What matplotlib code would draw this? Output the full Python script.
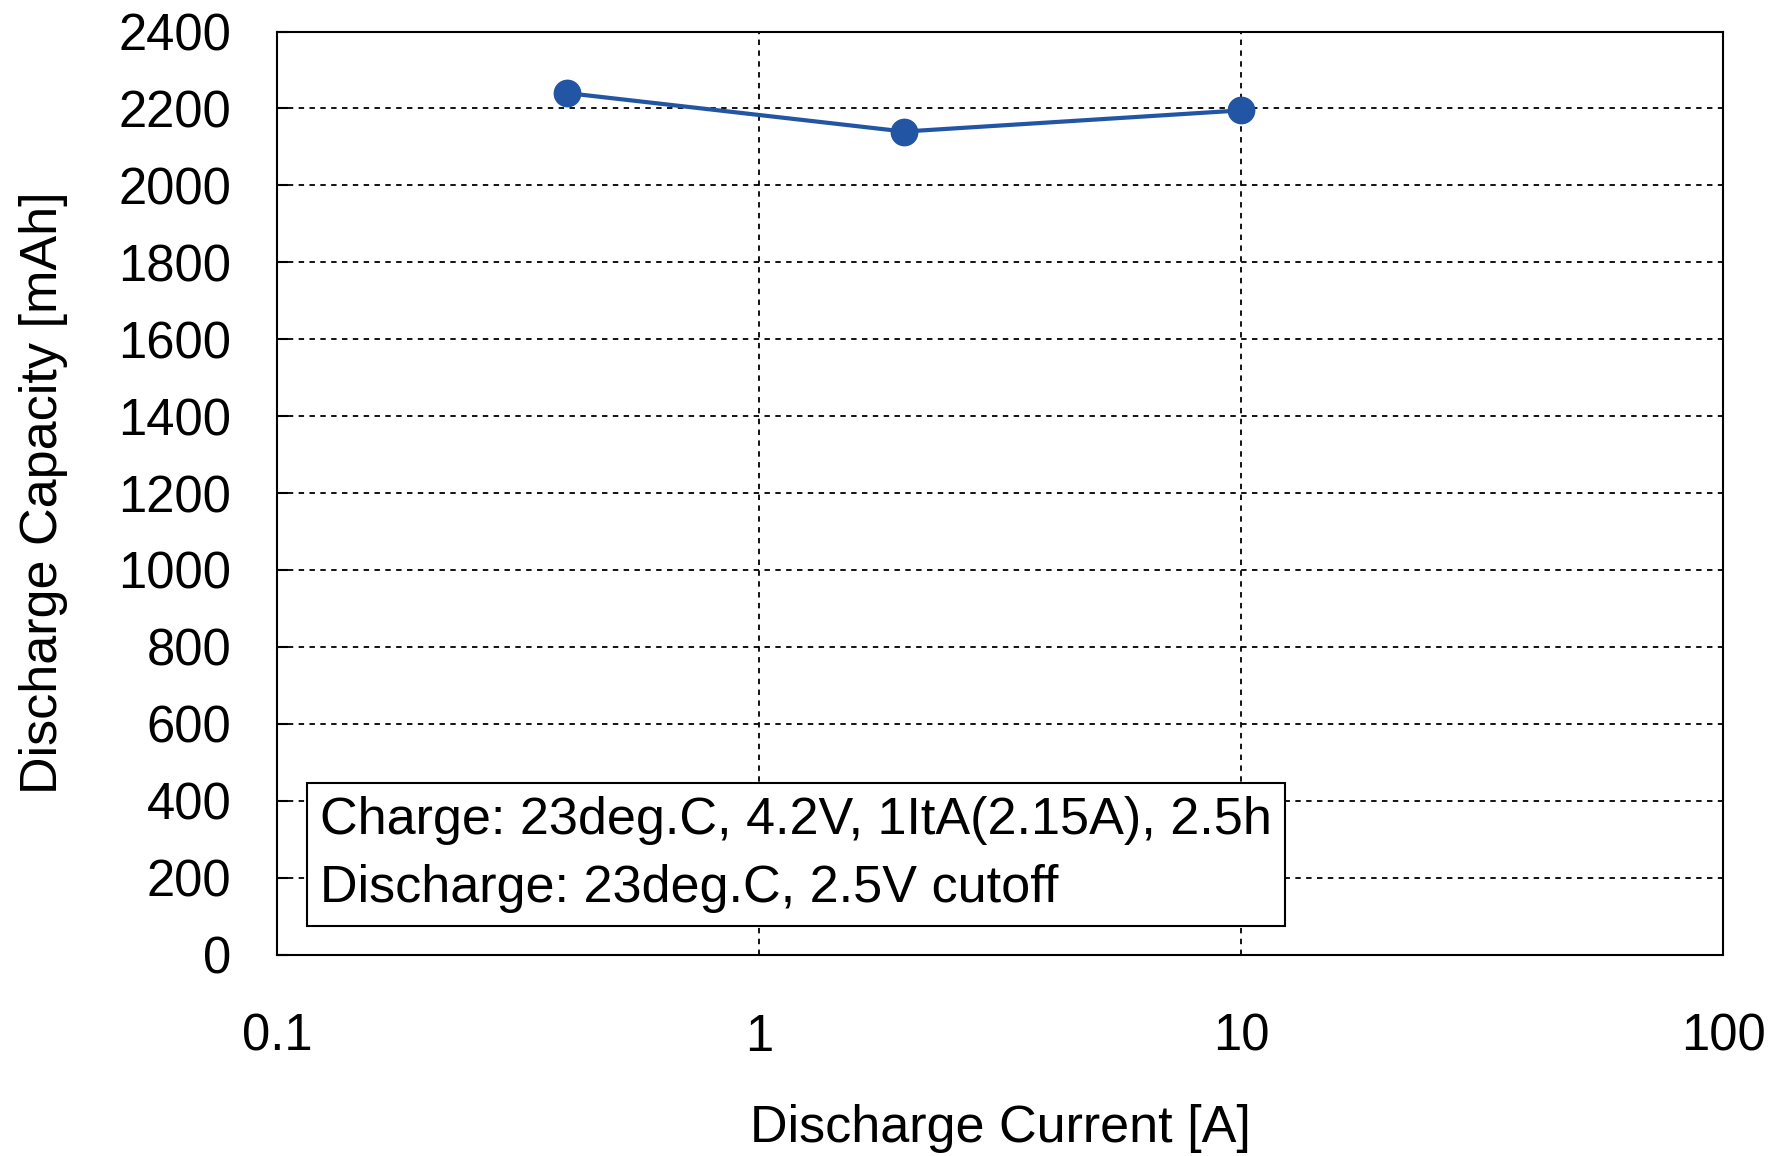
import matplotlib
matplotlib.use("Agg")
import matplotlib.pyplot as plt

plt.rcParams['font.family'] = ['Liberation Sans', 'DejaVu Sans']

current = [0.4, 2, 10]  # discharge current [A]
capacity = [2240, 2140, 2195]  # discharge capacity [mAh]
yticks = list(range(0, 2401, 200))
xticks = [0.1, 1, 10, 100]
xticklabels = ['0.1', '1', '10', '100']
note = "Charge: 23deg.C, 4.2V, 1ItA(2.15A), 2.5h\nDischarge: 23deg.C, 2.5V cutoff"

fig = plt.figure(figsize=(17.69, 11.56), dpi=100)
ax = fig.add_axes([0.1566, 0.1743, 0.8174, 0.7984])

ax.plot(current, capacity, '-', color='#2255A4', linewidth=3,
        marker='o', markersize=19, zorder=3)

ax.set_xscale('log')
ax.set_xlim(0.1, 100)
ax.set_ylim(0, 2400)
ax.set_yticks(yticks)
ax.set_xticks(xticks)
ax.set_xticklabels(xticklabels)
ax.minorticks_off()
ax.grid(True, color='black', linestyle=(0, (3, 3)), linewidth=1.3)

ax.tick_params(axis='both', direction='in', labelsize=36.5, length=8, width=1.5)
ax.tick_params(axis='x', pad=42, length=0)
ax.tick_params(axis='y', pad=33)
for s in ax.spines.values():
    s.set_linewidth(1.5)

ax.set_xlabel('Discharge Current [A]', fontsize=37.5, labelpad=30)
ax.set_ylabel('Discharge Capacity [mAh]', fontsize=37.5, labelpad=36)

ax.text(0.030, 0.045, note, transform=ax.transAxes, fontsize=37.5,
        linespacing=1.5, va='bottom', ha='left', zorder=4,
        bbox=dict(boxstyle='square,pad=0.25', facecolor='white',
                  edgecolor='black', linewidth=1.5))

fig.savefig('out.png', dpi=100)
